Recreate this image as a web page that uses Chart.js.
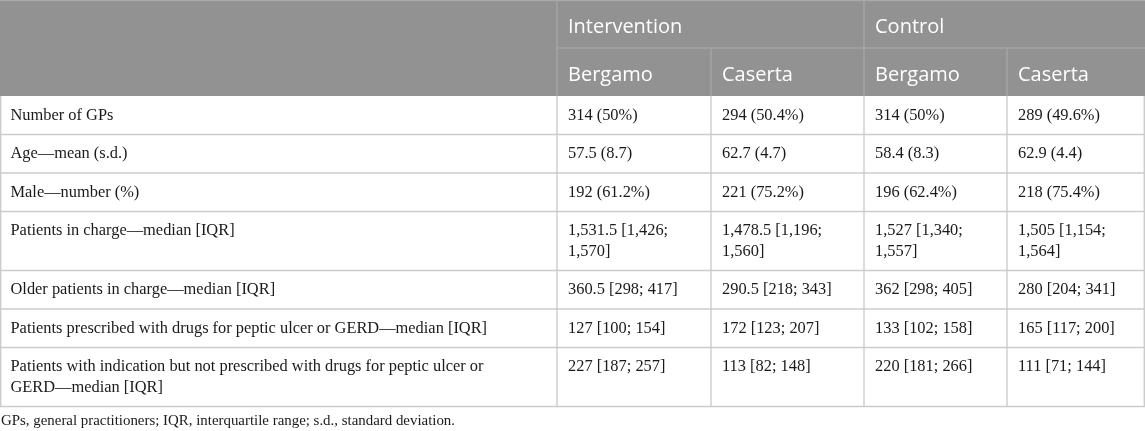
<!DOCTYPE html>
<html>
<head>
<meta charset="utf-8">
<script src="https://cdn.jsdelivr.net/npm/chart.js@4/dist/chart.umd.min.js"></script>
<style>
html,body{margin:0;padding:0;background:#fff;}
#wrap{width:1145px;height:431px;position:relative;}
</style>
</head>
<body>
<div id="wrap"><canvas id="c" width="1145" height="431"></canvas></div>
<script>
// ---- data ----
const groups = ['Intervention', 'Control'];
const sites = ['Bergamo', 'Caserta', 'Bergamo', 'Caserta'];
const rowLabels = [
  'Number of GPs',
  'Age\u2014mean (s.d.)',
  'Male\u2014number (%)',
  'Patients in charge\u2014median [IQR]',
  'Older patients in charge\u2014median [IQR]',
  'Patients prescribed with drugs for peptic ulcer or GERD\u2014median [IQR]',
  'Patients with indication but not prescribed with drugs for peptic ulcer or GERD\u2014median [IQR]'
];
const interventionBergamo = ['314 (50%)', '57.5 (8.7)', '192 (61.2%)', '1,531.5 [1,426; 1,570]', '360.5 [298; 417]', '127 [100; 154]', '227 [187; 257]'];
const interventionCaserta = ['294 (50.4%)', '62.7 (4.7)', '221 (75.2%)', '1,478.5 [1,196; 1,560]', '290.5 [218; 343]', '172 [123; 207]', '113 [82; 148]'];
const controlBergamo = ['314 (50%)', '58.4 (8.3)', '196 (62.4%)', '1,527 [1,340; 1,557]', '362 [298; 405]', '133 [102; 158]', '220 [181; 266]'];
const controlCaserta = ['289 (49.6%)', '62.9 (4.4)', '218 (75.4%)', '1,505 [1,154; 1,564]', '280 [204; 341]', '165 [117; 200]', '111 [71; 144]'];
const footnote = 'GPs, general practitioners; IQR, interquartile range; s.d., standard deviation.';

// ---- layout (table geometry in scale units) ----
const colEdges = [0, 557, 711, 864, 1007, 1145];
const headerRowH = 48;
const padX = 11;
const lineH = 20.5;
const rowPadV = 18;

const tablePlugin = {
  id: 'tablePlugin',
  afterDraw(chart) {
    const ctx = chart.ctx;
    const xs = chart.scales.x, ys = chart.scales.y;
    const X = v => xs.getPixelForValue(v);
    const Y = v => ys.getPixelForValue(v);
    const cols = [interventionBergamo, interventionCaserta, controlBergamo, controlCaserta];
    const bodyFont = '16.4px "Liberation Serif", "Times New Roman", serif';
    const headFont = '20px "Open Sans", "Noto Sans", sans-serif';

    function wrap(text, maxW) {
      ctx.font = bodyFont;
      const words = text.split(' ');
      const lines = [];
      let cur = '';
      for (const w of words) {
        const t = cur ? cur + ' ' + w : w;
        if (ctx.measureText(t).width > maxW && cur) { lines.push(cur); cur = w; }
        else cur = t;
      }
      if (cur) lines.push(cur);
      return lines;
    }

    ctx.save();
    // header background
    const hTop = 0, hBot = headerRowH * 2;
    ctx.fillStyle = '#929292';
    ctx.fillRect(X(0), Y(hTop), X(1145) - X(0), Y(hBot) - Y(hTop));
    // header lines
    ctx.strokeStyle = '#a9a9a9';
    ctx.lineWidth = 1.2;
    ctx.beginPath();
    ctx.moveTo(X(colEdges[1]), Y(headerRowH) ); ctx.lineTo(X(1145), Y(headerRowH));
    ctx.moveTo(X(colEdges[1]) , Y(0)); ctx.lineTo(X(colEdges[1]), Y(hBot));
    ctx.moveTo(X(colEdges[3]) , Y(0)); ctx.lineTo(X(colEdges[3]), Y(hBot));
    ctx.moveTo(X(colEdges[2]) , Y(headerRowH)); ctx.lineTo(X(colEdges[2]), Y(hBot));
    ctx.moveTo(X(colEdges[4]) , Y(headerRowH)); ctx.lineTo(X(colEdges[4]), Y(hBot));
    ctx.moveTo(X(0), Y(0.6)); ctx.lineTo(X(1145), Y(0.6));
    ctx.stroke();

    // header texts
    ctx.fillStyle = '#ffffff';
    ctx.font = headFont;
    ctx.textBaseline = 'middle';
    ctx.textAlign = 'left';
    groups.forEach((g, i) => {
      ctx.fillText(g, X(colEdges[1 + i * 2] + padX), Y(headerRowH / 2 + 3.5));
    });
    sites.forEach((s, i) => {
      ctx.fillText(s, X(colEdges[1 + i] + padX), Y(headerRowH * 1.5 + 3));
    });

    // body
    let top = hBot;
    const rowTops = [];
    rowLabels.forEach((lab, r) => {
      const cells = [lab].concat(cols.map(c => c[r]));
      const wrapped = cells.map((t, ci) => wrap(t, colEdges[ci + 1] - colEdges[ci] - 2 * padX + 2));
      const n = Math.max(...wrapped.map(w => w.length));
      const h = rowPadV + lineH * n;
      wrapped.forEach((lines, ci) => {
        lines.forEach((ln, li) => {
          ctx.fillStyle = '#1a1a1a';
          ctx.font = bodyFont;
          ctx.fillText(ln, X(colEdges[ci] + (ci === 0 ? 10.5 : padX)), Y(top + 19.5 + li * lineH));
        });
      });
      rowTops.push(top);
      top += h;
    });
    rowTops.push(top);

    // body grid
    ctx.strokeStyle = '#cccccc';
    ctx.lineWidth = 1.4;
    ctx.beginPath();
    rowTops.slice(1).forEach(t => { ctx.moveTo(X(0), Y(t)); ctx.lineTo(X(1145), Y(t)); });
    colEdges.forEach((c, i) => {
      const cx = i === colEdges.length - 1 ? c - 0.7 : (i === 0 ? c + 0.7 : c);
      ctx.moveTo(X(cx), Y(hBot)); ctx.lineTo(X(cx), Y(top));
    });
    ctx.stroke();

    // footnote
    ctx.fillStyle = '#1a1a1a';
    ctx.font = '14.9px "Liberation Serif", "Times New Roman", serif';
    ctx.fillText(footnote, X(1), Y(top + 14.5));
    ctx.restore();
  }
};

new Chart(document.getElementById('c'), {
  type: 'scatter',
  data: { datasets: [{ data: [] }] },
  options: {
    responsive: false,
    animation: false,
    layout: { padding: 0 },
    plugins: { legend: { display: false }, tooltip: { enabled: false } },
    scales: {
      x: { type: 'linear', min: 0, max: 1145, display: false },
      y: { type: 'linear', min: 0, max: 431, reverse: true, display: false }
    }
  },
  plugins: [tablePlugin]
});
</script>
</body>
</html>
